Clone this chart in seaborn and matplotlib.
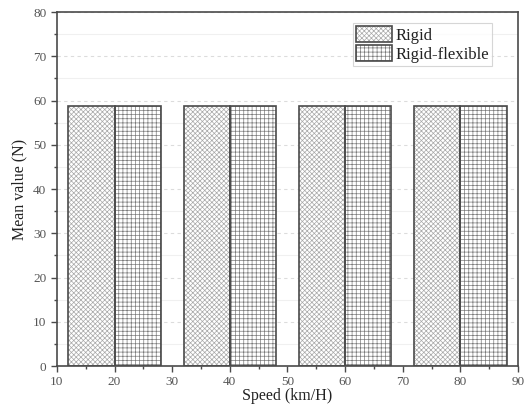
import matplotlib
matplotlib.use("Agg")
import matplotlib.pyplot as plt
import seaborn as sns
import pandas as pd
from matplotlib.ticker import MultipleLocator
from matplotlib.patches import Patch, Rectangle

speeds = [20, 40, 60, 80]
rigid = [58.7, 58.7, 58.7, 58.7]
rigid_flexible = [58.7, 58.7, 58.7, 58.7]
series_names = ["Rigid", "Rigid-flexible"]
hatches = ["xxxxxxx", "++++"]
hatch_colors = ["#a8a8a8", "#7a7a7a"]

df = pd.DataFrame({
    "Speed": speeds * 2,
    "Value": rigid + rigid_flexible,
    "Type": [series_names[0]] * len(speeds) + [series_names[1]] * len(speeds),
})

sns.set_theme(style="white")
plt.rcParams["font.family"] = ["Liberation Serif", "DejaVu Serif"]
plt.rcParams["hatch.linewidth"] = 0.5

edge = "#4a4a4a"
fig = plt.figure(figsize=(5.27, 4.07), dpi=100)
ax = fig.add_axes([0.108, 0.1007, 0.875, 0.8698])

sns.barplot(data=df, x="Speed", y="Value", hue="Type", native_scale=True,
            width=0.8, ax=ax, legend=False, errorbar=None,
            palette=["white", "white"], saturation=1)

for cont, h, hc in zip(ax.containers, hatches, hatch_colors):
    for p in cont:
        p.set_hatch(h)
        p.set_facecolor("white")
        p.set_edgecolor(hc)
        p.set_linewidth(0)
        outline = Rectangle(p.get_xy(), p.get_width(), p.get_height(),
                            fill=False, edgecolor=edge, linewidth=1.2, zorder=p.get_zorder() + 0.1)
        ax.add_patch(outline)

ax.set_xlim(10, 90)
ax.set_ylim(0, 80)
ax.xaxis.set_major_locator(MultipleLocator(10))
ax.xaxis.set_minor_locator(MultipleLocator(5))
ax.yaxis.set_major_locator(MultipleLocator(10))
ax.yaxis.set_minor_locator(MultipleLocator(5))
ax.tick_params(axis="both", which="major", direction="out", length=4, width=1,
               color=edge, labelcolor="#555555", labelsize=9.5, bottom=True, left=True)
ax.tick_params(axis="both", which="minor", direction="out", length=2.5, width=1,
               color=edge, bottom=True, left=True)

ax.set_axisbelow(True)
ax.yaxis.grid(True, which="major", linestyle=(0, (3, 3)), color="#dcdcdc", linewidth=0.8)
ax.yaxis.grid(True, which="minor", linestyle="-", color="#f0f0f0", linewidth=0.8)
ax.xaxis.grid(False)

for s in ax.spines.values():
    s.set_visible(True)
    s.set_color(edge)
    s.set_linewidth(1.2)

ax.set_xlabel("Speed (km/H)", fontsize=11.5, color="#222222", labelpad=0)
ax.set_ylabel("Mean value (N)", fontsize=11.5, color="#222222", labelpad=4)


class OutlinedHatch(Patch):
    pass


handles = []
for h, hc in zip(hatches, hatch_colors):
    hp = Patch(facecolor="white", edgecolor=hc, hatch=h, linewidth=0)
    handles.append(hp)

from matplotlib.legend_handler import HandlerPatch


class HandlerOutlined(HandlerPatch):
    def create_artists(self, legend, orig_handle, xdescent, ydescent, width, height, fontsize, trans):
        base = Rectangle((-xdescent, -ydescent), width, height, facecolor="white",
                         edgecolor=orig_handle.get_edgecolor(), hatch=orig_handle.get_hatch(),
                         linewidth=0, transform=trans)
        out = Rectangle((-xdescent, -ydescent), width, height, fill=False,
                        edgecolor=edge, linewidth=1.2, transform=trans)
        return [base, out]


leg = ax.legend(handles, series_names, loc="upper right", bbox_to_anchor=(0.9436, 0.969),
                fontsize=12, frameon=True, fancybox=False, edgecolor="#cccccc",
                handlelength=2.15, handleheight=1.08, labelspacing=0.08,
                handletextpad=0.2, borderpad=0.2, borderaxespad=0,
                handler_map={Patch: HandlerOutlined()})
leg.get_frame().set_linewidth(0.8)
for t in leg.get_texts():
    t.set_color("#222222")

fig.savefig("out.png", dpi=100)
